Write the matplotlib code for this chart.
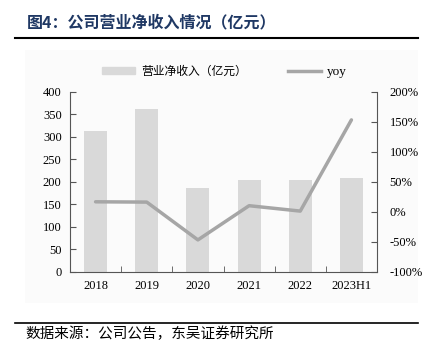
import matplotlib.pyplot as plt
import numpy as np
from matplotlib.patches import Rectangle
from matplotlib.lines import Line2D

years = ['2018', '2019', '2020', '2021', '2022', '2023H1']
revenue = [313, 361, 187, 204, 204, 208]      # 亿元
yoy = [16.5, 16.0, -47.0, 10.0, 1.0, 153.0]     # %

bar_color = '#d9d9d9'
line_color = '#a6a6a6'
cjk = ['Noto Sans CJK SC', 'DejaVu Sans']
serif = 'Liberation Serif'

fig = plt.figure(figsize=(4.36, 3.54), dpi=100)

# faint chart area background
fig.patches.append(Rectangle((25 / 436, 1 - 303 / 354), 393 / 436, 253 / 354,
                             transform=fig.transFigure, facecolor='#fbfbfb',
                             edgecolor='none', zorder=-5))

ax = fig.add_axes([70 / 436, 1 - 271.7 / 354, 307 / 436, 180 / 354])
ax.set_facecolor('none')
x = np.arange(len(years))
ax.bar(x, revenue, width=0.45, color=bar_color, zorder=1)
ax.set_xlim(-0.5, len(years) - 0.5)
ax.set_ylim(0, 400)
ax.set_yticks(range(0, 401, 50))
ax.set_xticks(x)
ax.set_xticklabels(years)
ax.set_xticks(np.arange(-0.5, len(years), 1), minor=True)
ax.tick_params(axis='x', which='major', length=0, pad=6)
ax.tick_params(axis='x', which='minor', direction='in', length=4, color='#555555')
ax.tick_params(axis='y', direction='in', length=4, color='#555555', pad=6)
for lab in ax.get_xticklabels() + ax.get_yticklabels():
    lab.set_fontfamily(serif)
    lab.set_fontsize(9)
ax.spines['top'].set_visible(False)
ax.spines['right'].set_visible(False)
for s in ('left', 'bottom'):
    ax.spines[s].set_color('#555555')
    ax.spines[s].set_linewidth(0.8)

ax2 = ax.twinx()
ax2.plot(x, yoy, color=line_color, linewidth=2.5, solid_capstyle='round', zorder=3)
ax2.set_ylim(-100, 200)
ax2.set_yticks(range(-100, 201, 50))
ax2.set_yticklabels([f'{v}%' for v in range(-100, 201, 50)])
ax2.tick_params(axis='y', direction='in', length=4, color='#555555', pad=9)
for lab in ax2.get_yticklabels():
    lab.set_fontfamily(serif)
    lab.set_fontsize(9)
for s in ('top', 'left', 'bottom'):
    ax2.spines[s].set_visible(False)
ax2.spines['right'].set_color('#555555')
ax2.spines['right'].set_linewidth(0.8)

# legend
handles = [Rectangle((0, 0), 1, 1, color=bar_color),
           Line2D([], [], color=line_color, linewidth=2.5)]
leg = fig.legend(handles, ['营业净收入（亿元）', 'yoy'], loc='center',
                 bbox_to_anchor=(0.515, 1 - 71 / 354), ncol=2, frameon=False,
                 handlelength=2.8, handleheight=0.6, columnspacing=3.5,
                 handletextpad=0.5, prop={'family': cjk, 'size': 8.5})
leg.get_texts()[1].set_fontfamily(serif)
leg.get_texts()[1].set_fontsize(9.5)

# title and rules
fig.text(27 / 436, 1 - 22 / 354, '图4：公司营业净收入情况（亿元）', family=cjk,
         fontsize=11.5, fontweight='bold', color='#1f3864', va='center')
fig.add_artist(Line2D([15 / 436, 418 / 436], [1 - 38 / 354, 1 - 38 / 354],
                      color='black', linewidth=1.5, transform=fig.transFigure))
fig.add_artist(Line2D([15 / 436, 418 / 436], [1 - 323 / 354, 1 - 323 / 354],
                      color='black', linewidth=1.2, transform=fig.transFigure))
fig.text(25 / 436, 1 - 334 / 354, '数据来源：公司公告，东吴证券研究所', family=cjk,
         fontsize=10.5, color='black', va='center')

fig.savefig('out.png', dpi=100)
